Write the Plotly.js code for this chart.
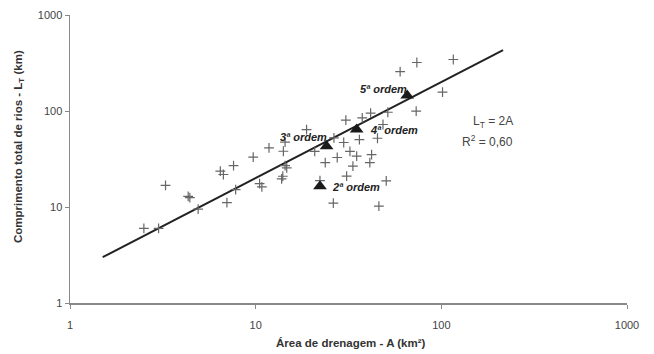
<!DOCTYPE html>
<html>
<head>
<meta charset="utf-8">
<script src="https://cdn.plot.ly/plotly-3.0.1.min.js"></script>
<style>html,body{margin:0;padding:0;background:#fff;}#chart{width:654px;height:354px;}</style>
</head>
<body>
<div id="chart"></div>
<script>
// Drainage basins (crosses)
const areaA = [2.5, 3.0, 3.27, 4.33, 4.42, 4.9, 6.45, 6.7, 7.0, 7.6, 7.8, 9.7, 10.5, 10.8, 11.8,
  14.1, 14.4, 14.4, 14.7, 14.0, 13.8, 18.8, 20.8, 22.2, 23.7, 26.4, 27.5, 26.2, 30.6, 29.8,
  32.2, 35.0, 33.4, 30.9, 36.2, 37.5, 41.6, 42.1, 41.2, 45.3, 48.5, 50.5, 46.1, 51.5, 60.0,
  73.8, 73.2, 101.5, 116.0];
const lengthL = [6.0, 6.0, 16.8, 12.9, 12.5, 9.5, 23.6, 21.8, 11.1, 27.0, 15.2, 33.0, 17.5, 16.2, 41.3,
  38.1, 47.3, 27.0, 25.5, 20.9, 19.6, 64.0, 38.0, 18.8, 29.0, 52.5, 32.8, 11.0, 80.2, 47.0,
  38.0, 33.8, 26.6, 21.0, 50.4, 85.0, 95.0, 35.2, 29.0, 52.0, 72.3, 18.7, 10.2, 97.0, 257.0,
  320.0, 99.5, 157.0, 344.0];
// Stream orders (triangles)
const orderLabels = ["2ª ordem", "3ª ordem", "4ª ordem", "5ª ordem"];
const orderA = [22.2, 24.1, 35.0, 65.5];
const orderL = [16.4, 43.0, 64.0, 145.0];
// Fitted line L_T = 2A
const fitA = [1.5, 215];
const fitL = [3, 430];
const tickVals = [1, 10, 100, 1000];
const tickText = ["1", "10", "100", "1000"];

const FONT = "Liberation Sans, Arial, sans-serif";

const traces = [
  {x: fitA, y: fitL, mode: "lines", line: {color: "#222", width: 2}, hoverinfo: "skip"},
  {x: areaA, y: lengthL, mode: "markers",
   marker: {symbol: "cross-thin-open", size: 7, color: "#666", line: {color: "#666", width: 1.2}}},
  {x: orderA, y: orderL, mode: "markers",
   marker: {symbol: "triangle-up", size: 12, color: "#1a1a1a"}}
];

// label offsets in pixels relative to each triangle
const offs = [[36, 1], [-23, -9], [37, 0], [-24, -7]];
const anns = orderLabels.map((t, i) => ({
  x: Math.log10(orderA[i]), y: Math.log10(orderL[i]), xref: "x", yref: "y",
  text: "<b><i>" + t + "</i></b>", showarrow: false, xshift: offs[i][0], yshift: -offs[i][1],
  font: {family: FONT, size: 11, color: "#222"}
}));
anns.push({xref: "paper", yref: "paper", x: (515 - 70) / 557, y: (303 - 122) / 288,
  text: "L<sub>T</sub> = 2A", showarrow: false,
  font: {family: FONT, size: 12, color: "#444"}});
anns.push({xref: "paper", yref: "paper", x: (515 - 70) / 557, y: (303 - 141) / 288,
  text: "R<sup>2</sup> = 0,60", showarrow: false,
  font: {family: FONT, size: 12, color: "#444"}});
// y-axis title as rotated annotation
anns.push({xref: "paper", yref: "paper", x: (19 - 70) / 557, y: (303 - 147) / 288,
  xanchor: "center", yanchor: "middle", textangle: -90, showarrow: false,
  text: "<b>Comprimento total de rios - L<sub>T</sub> (km)</b>",
  font: {family: FONT, size: 11.5, color: "#333"}});
// x-axis title as annotation
anns.push({xref: "paper", yref: "paper", x: (350 - 70) / 557, y: (303 - 343) / 288,
  xanchor: "center", yanchor: "middle", showarrow: false,
  text: "<b>Área de drenagem - A (km²)</b>",
  font: {family: FONT, size: 11.5, color: "#333"}});

const axisCommon = {
  type: "log", range: [0, 3], tickvals: tickVals, ticktext: tickText,
  showgrid: false, zeroline: false, showline: true, linecolor: "#888", linewidth: 1.5,
  ticks: "outside", ticklen: 4, tickcolor: "#888", tickwidth: 1,
  tickfont: {family: FONT, size: 11, color: "#444"}
};

const layout = {
  width: 654, height: 354,
  margin: {l: 70, r: 27, t: 15, b: 51},
  paper_bgcolor: "#fff", plot_bgcolor: "#fff",
  showlegend: false,
  xaxis: Object.assign({}, axisCommon, {ticklabelstandoff: 7, title: {text: ""}}),
  yaxis: Object.assign({}, axisCommon, {title: {text: ""}}),
  annotations: anns
};

Plotly.newPlot("chart", traces, layout, {staticPlot: true, displayModeBar: false});
</script>
</body>
</html>
